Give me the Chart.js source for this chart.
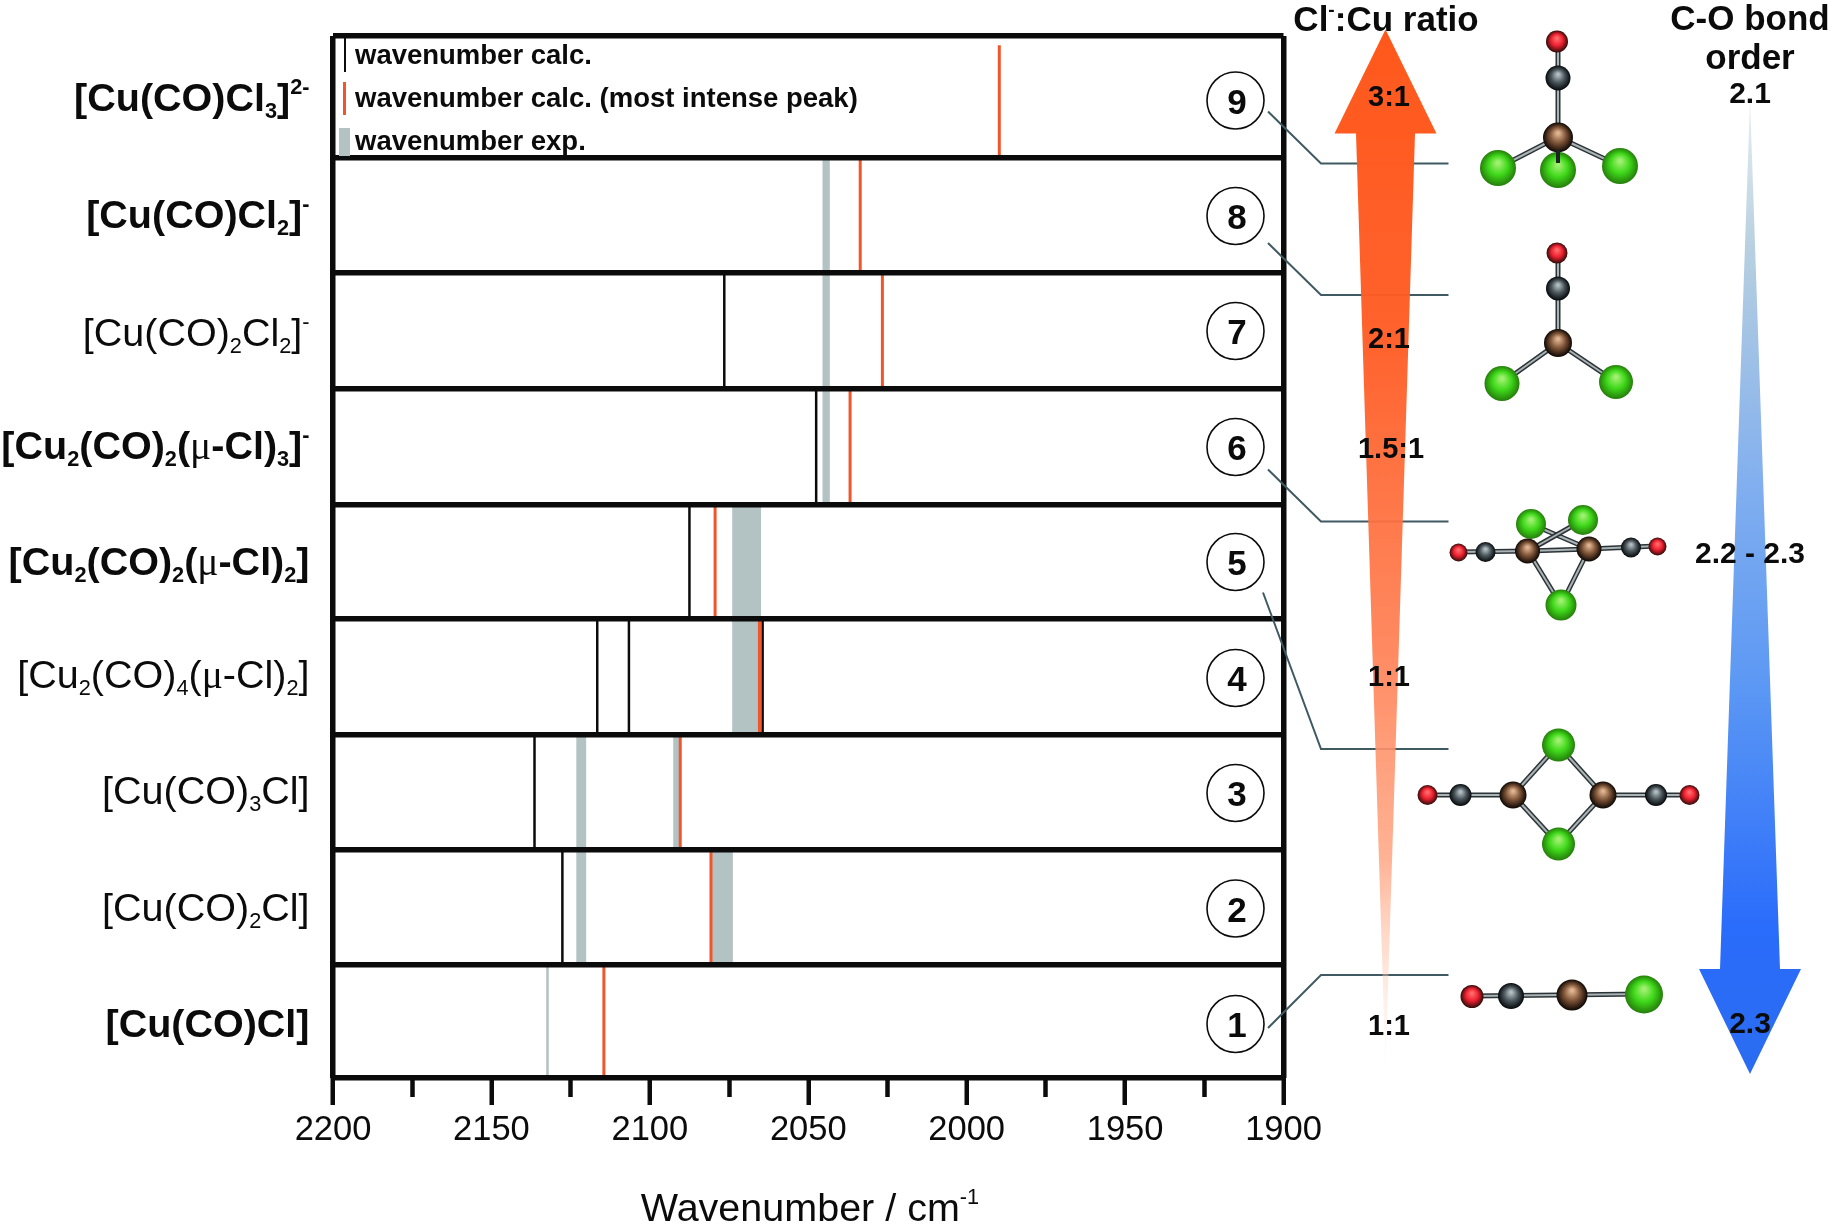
<!DOCTYPE html>
<html>
<head>
<meta charset="utf-8">
<script src="https://cdn.jsdelivr.net/npm/chart.js@4"></script>
<style>
  html, body { margin: 0; padding: 0; background: #fff; }
  canvas { display: block; }
</style>
</head>
<body>
<canvas id="chart" width="1832" height="1226"></canvas>
<script>
// rows go bottom to top, _ is subscript, ^ is superscript
const rowLabels = ['[Cu(CO)Cl]', '[Cu(CO)_2Cl]', '[Cu(CO)_3Cl]', '[Cu_2(CO)_4(μ-Cl)_2]', '[Cu_2(CO)_2(μ-Cl)_2]',
                   '[Cu_2(CO)_2(μ-Cl)_3]^-', '[Cu(CO)_2Cl_2]^-', '[Cu(CO)Cl_2]^-', '[Cu(CO)Cl_3]^2-'];
const rowBold = [true, false, false, false, true, true, false, true, true];
const rowEdges = [0, 0.98, 1.97, 2.97, 3.97, 4.96, 5.96, 6.96, 7.96, 9.01];

const blackRows = [2, 3, 4, 4, 4, 5, 6, 7];
const blackWavenumbers = [2127.6, 2136.4, 2116.6, 2106.6, 2064.4, 2087.5, 2047.5, 2076.5];

const orangeRows = [1, 2, 3, 4, 5, 6, 7, 8, 9];
const orangeWavenumbers = [2114.5, 2080.7, 2090.4, 2065.4, 2079.4, 2036.8, 2026.6, 2033.6, 1989.7];

const bandRows = [1, 2, 2, 3, 3, 4, 5, 6, 7, 8];
const bandHigh = [2132.6, 2123.1, 2080.7, 2123.1, 2092.5, 2073.9, 2073.9, 2045.4, 2045.4, 2045.4];
const bandLow = [2132.0, 2120.2, 2073.9, 2120.2, 2090.4, 2065.0, 2065.0, 2043.3, 2043.3, 2043.3];

const majorTicks = [2200, 2150, 2100, 2050, 2000, 1950, 1900];
const minorTicks = [2175, 2125, 2075, 2025, 1975, 1925];

const legendLabels = ['wavenumber calc.', 'wavenumber calc. (most intense peak)', 'wavenumber exp.'];
const rowNumbers = ['1', '2', '3', '4', '5', '6', '7', '8', '9'];
const ratioLabels = ['3:1', '2:1', '1.5:1', '1:1', '1:1'];
const bondOrderLabels = ['2.1', '2.2 - 2.3', '2.3'];

const BLACK = '#0b0b0b';
const ORANGE = '#f0562a';
const GREY = '#b3c2c2';
const FONT = '"Liberation Sans", Arial, sans-serif';

function peakLine(rows, values) {
    // each peak spans its row, NaN breaks the line between peaks
    const pts = [];
    rows.forEach((r, i) => {
        const top = r === 9 ? 8.93 : rowEdges[r];
        pts.push({x: values[i], y: rowEdges[r - 1]}, {x: values[i], y: top}, {x: NaN, y: NaN});
    });
    return pts;
}

// draws "[Cu(CO)_2Cl]^-" style labels, right aligned on x unless align is center
function richText(ctx, str, x, y, size, bold, align) {
    const parts = str.split(/(_\d|\^[\d-]+|μ)/).filter(s => s);
    const weight = bold ? 'bold ' : '';
    const items = parts.map(p => {
        if (p[0] === '_') return {t: p.slice(1), font: weight + size * 0.55 + 'px ' + FONT, dy: size * 0.2};
        if (p[0] === '^') return {t: p.slice(1), font: weight + size * 0.55 + 'px ' + FONT, dy: -size * 0.42};
        if (p === 'μ') return {t: p, font: size + 'px "Liberation Serif", serif', dy: 0};
        return {t: p, font: weight + size + 'px ' + FONT, dy: 0};
    });
    let total = 0;
    items.forEach(it => { ctx.font = it.font; it.w = ctx.measureText(it.t).width; total += it.w; });
    let cx = align === 'center' ? x - total / 2 : x - total;
    ctx.textAlign = 'left';
    ctx.textBaseline = 'alphabetic';
    items.forEach(it => {
        ctx.font = it.font;
        ctx.fillText(it.t, cx, y + it.dy);
        cx += it.w;
    });
}

function drawArrow(ctx, pts, fill) {
    ctx.beginPath();
    pts.forEach((p, i) => i ? ctx.lineTo(p[0], p[1]) : ctx.moveTo(p[0], p[1]));
    ctx.closePath();
    ctx.fillStyle = fill;
    ctx.fill();
}

const atomColors = {
    O: ['#ff6a6a', '#ee2030', '#2e0c08'],
    C: ['#b4bec2', '#4a565c', '#05080a'],
    U: ['#e0b490', '#7c5236', '#0c0603'],
    L: ['#a0f070', '#3fd81a', '#247e0a']
};

function atom(ctx, kind, x, y, r) {
    const c = atomColors[kind];
    const g = ctx.createRadialGradient(x, y - r * 0.3, r * 0.08, x, y, r);
    g.addColorStop(0, c[0]);
    g.addColorStop(0.5, c[1]);
    g.addColorStop(1, c[2]);
    ctx.fillStyle = g;
    ctx.beginPath();
    ctx.arc(x, y, r, 0, Math.PI * 2);
    ctx.fill();
}

function bonds(ctx, list) {
    list.forEach(b => {
        ctx.beginPath();
        ctx.moveTo(b[0], b[1]);
        ctx.lineTo(b[2], b[3]);
        ctx.lineWidth = 5;
        ctx.strokeStyle = '#2c3338';
        ctx.stroke();
        ctx.beginPath();
        ctx.moveTo(b[0], b[1]);
        ctx.lineTo(b[2], b[3]);
        ctx.lineWidth = 2;
        ctx.strokeStyle = '#aab4b4';
        ctx.stroke();
    });
}

function drawMolecules(ctx) {
    bonds(ctx, [[1558, 50, 1558, 137], [1558, 137, 1498, 168], [1558, 137, 1620, 166],
                [1558, 262, 1558, 343], [1558, 343, 1502, 383], [1558, 343, 1616, 382],
                [1459, 552, 1528, 551], [1528, 551, 1589, 549], [1589, 549, 1657, 546], [1528, 551, 1561, 605],
                [1589, 549, 1561, 605], [1531, 524, 1589, 549], [1583, 520, 1528, 551],
                [1427, 795, 1513, 795], [1603, 795, 1690, 795], [1513, 795, 1558, 745], [1558, 745, 1603, 795],
                [1513, 795, 1558, 844], [1558, 844, 1603, 795],
                [1472, 996, 1644, 994]]);
    [['O', 1557, 41.5, 11], ['C', 1558, 78, 12.5], ['L', 1498, 168, 18], ['L', 1558, 170, 18], ['L', 1620, 166, 18], ['U', 1558, 137.5, 15],
     ['O', 1557, 253, 10.5], ['C', 1558, 288.5, 12], ['U', 1558, 343, 14], ['L', 1502, 383.5, 17.5], ['L', 1616, 382, 17],
     ['L', 1531, 524, 15], ['L', 1583, 520, 15], ['O', 1458.5, 552.5, 9], ['C', 1485.5, 552, 10], ['U', 1527.5, 551, 12.5],
     ['U', 1589, 549, 12.5], ['C', 1631, 547.5, 10], ['O', 1657.5, 546.5, 9], ['L', 1561, 605, 15.5],
     ['O', 1427.5, 795, 10], ['C', 1460.5, 795, 11], ['U', 1513, 795, 13.5], ['U', 1603, 795, 13.5], ['C', 1656, 795, 11],
     ['O', 1689.5, 795, 10], ['L', 1558.5, 745, 16.5], ['L', 1558.5, 844, 16.5],
     ['O', 1472, 996.5, 11.5], ['C', 1511, 996, 13], ['U', 1572, 995, 15.5], ['L', 1644, 994.5, 19]
    ].forEach(a => atom(ctx, a[0], a[1], a[2], a[3]));
    // the stub of the Cu-Cl bond that sits in front of the middle Cl
    ctx.fillStyle = '#1c2226';
    ctx.fillRect(1556, 150, 4, 13);
}

const decorations = {
    id: 'decorations',
    afterDraw(chart) {
        const ctx = chart.ctx;
        ctx.save();

        // legend keys inside the top row
        ctx.fillStyle = BLACK;
        ctx.fillRect(344, 38, 2, 34);
        ctx.fillStyle = ORANGE;
        ctx.fillRect(343, 82, 3, 33);
        ctx.fillStyle = GREY;
        ctx.fillRect(339, 128, 11, 28);
        ctx.fillStyle = BLACK;
        legendLabels.forEach((t, i) => {
            ctx.font = 'bold 27.5px ' + FONT;
            ctx.textAlign = 'left';
            ctx.textBaseline = 'alphabetic';
            ctx.fillText(t, 355, [64, 107, 150][i]);
        });

        // row labels and numbered circles
        const labelY = [1025, 909, 792, 676, 563, 447, 334, 216, 99];
        const circleY = [1024, 908.5, 793, 678, 562, 447, 331, 216, 100.5];
        rowLabels.forEach((t, i) => {
            ctx.fillStyle = BLACK;
            richText(ctx, t, 309.5, labelY[i] + 11.5, 39.5, rowBold[i]);
            ctx.beginPath();
            ctx.arc(1235.5, circleY[i], 28.5, 0, Math.PI * 2);
            ctx.fillStyle = '#fff';
            ctx.fill();
            ctx.lineWidth = 1.6;
            ctx.strokeStyle = BLACK;
            ctx.stroke();
            ctx.fillStyle = BLACK;
            ctx.font = 'bold 35px ' + FONT;
            ctx.textAlign = 'center';
            ctx.textBaseline = 'alphabetic';
            ctx.fillText(rowNumbers[i], 1237, circleY[i] + 13);
        });

        // axis title
        richText(ctx, 'Wavenumber / cm^-1', 810, 1221, 39.5, false, 'center');

        // callout lines from the circles to the molecules
        ctx.strokeStyle = '#3f5a62';
        ctx.lineWidth = 2;
        [[1268, 111.5, 163.5], [1268, 243, 295], [1268, 469.5, 521.5], [1263, 592.5, 749], [1268, 1028, 975]].forEach(l => {
            ctx.beginPath();
            ctx.moveTo(l[0], l[1]);
            ctx.lineTo(1321, l[2]);
            ctx.lineTo(1448.5, l[2]);
            ctx.stroke();
        });

        // Cl:Cu arrow
        const og = ctx.createLinearGradient(0, 30, 0, 1067);
        og.addColorStop(0, 'rgba(255,88,28,1)');
        og.addColorStop(0.3, 'rgba(255,92,36,0.96)');
        og.addColorStop(0.6, 'rgba(255,128,84,0.92)');
        og.addColorStop(0.8, 'rgba(255,165,130,0.85)');
        og.addColorStop(1, 'rgba(255,220,205,0.05)');
        drawArrow(ctx, [[1385.5, 29.5], [1436.5, 133.5], [1415, 133.5], [1385.5, 1067], [1356, 133.5], [1334.5, 133.5]], og);

        // bond order arrow
        const bg = ctx.createLinearGradient(0, 100, 0, 1074);
        bg.addColorStop(0, '#e8eef2');
        bg.addColorStop(0.15, '#b8d0e0');
        bg.addColorStop(0.4, '#80aeef');
        bg.addColorStop(0.6, '#5c98f4');
        bg.addColorStop(0.85, '#2a6cfb');
        bg.addColorStop(1, '#2a6cf0');
        drawArrow(ctx, [[1750, 100], [1780, 969], [1801, 969], [1750, 1074], [1699, 969], [1720, 969]], bg);

        drawMolecules(ctx);

        // headings and arrow labels
        ctx.fillStyle = BLACK;
        richText(ctx, 'Cl^-:Cu ratio', 1386, 31, 35, true, 'center');
        ctx.font = 'bold 35px ' + FONT;
        ctx.textAlign = 'center';
        ctx.textBaseline = 'alphabetic';
        ctx.fillText('C-O bond', 1750, 30);
        ctx.fillText('order', 1750, 69);
        ctx.font = 'bold 29px ' + FONT;
        [[1389, 106], [1389, 348], [1391, 458], [1389, 686], [1389, 1035]].forEach((p, i) => {
            ctx.fillText(ratioLabels[i], p[0], p[1]);
        });
        ctx.font = 'bold 30px ' + FONT;
        [[1750, 103], [1750, 563], [1750, 1033]].forEach((p, i) => {
            ctx.fillText(bondOrderLabels[i], p[0], p[1]);
        });
        ctx.restore();
    }
};

new Chart(document.getElementById('chart'), {
    data: {
        datasets: [
            {
                type: 'bar',
                label: 'wavenumber exp.',
                order: 3,
                data: bandRows.map((r, i) => ({x: [bandLow[i], bandHigh[i]], y: (rowEdges[r - 1] + rowEdges[r]) / 2})),
                backgroundColor: GREY,
                barPercentage: 1,
                categoryPercentage: 1,
                grouped: false
            },
            {
                type: 'line',
                label: 'wavenumber calc.',
                order: 2,
                data: peakLine(blackRows, blackWavenumbers),
                borderColor: BLACK,
                borderWidth: 2.5,
                pointRadius: 0,
                spanGaps: false
            },
            {
                type: 'line',
                label: 'wavenumber calc. (most intense peak)',
                order: 1,
                data: peakLine(orangeRows, orangeWavenumbers),
                borderColor: ORANGE,
                borderWidth: 3,
                pointRadius: 0,
                spanGaps: false
            }
        ]
    },
    options: {
        indexAxis: 'y',
        responsive: false,
        animation: false,
        devicePixelRatio: 1,
        layout: {
            autoPadding: false,
            padding: {left: 333, right: 548.5, top: 36, bottom: 0}
        },
        plugins: {
            legend: {display: false},
            title: {display: false},
            tooltip: {enabled: false}
        },
        scales: {
            x: {
                type: 'linear',
                reverse: true,
                min: 1900,
                max: 2200,
                position: 'bottom',
                afterFit: s => { s.height = 148; },
                afterBuildTicks: s => { s.ticks = majorTicks.map(value => ({value})); },
                border: {display: false},
                grid: {
                    z: 1,
                    color: c => (c.tick && (c.tick.value === 1900 || c.tick.value === 2200)) ? BLACK : 'rgba(0,0,0,0)',
                    lineWidth: 5.5,
                    tickColor: BLACK,
                    tickWidth: 4.5,
                    tickLength: 27
                },
                ticks: {
                    autoSkip: false,
                    maxRotation: 0,
                    padding: 5,
                    color: BLACK,
                    font: {family: FONT, size: 34.5},
                    callback: v => String(v)
                }
            },
            xMinor: {
                type: 'linear',
                axis: 'x',
                reverse: true,
                min: 1900,
                max: 2200,
                position: {y: 0},
                afterBuildTicks: s => { s.ticks = minorTicks.map(value => ({value})); },
                border: {display: false},
                grid: {
                    drawOnChartArea: false,
                    tickColor: BLACK,
                    tickWidth: 4.5,
                    tickLength: 19
                },
                ticks: {display: false, autoSkip: false}
            },
            y: {
                type: 'linear',
                offset: false,
                min: 0,
                max: 9.01,
                afterFit: s => { s.width = 0; },
                afterBuildTicks: s => { s.ticks = rowEdges.map(value => ({value})); },
                border: {display: false},
                grid: {
                    z: 1,
                    offset: false,
                    color: BLACK,
                    lineWidth: 5.5,
                    drawTicks: false
                },
                ticks: {display: false}
            }
        }
    },
    plugins: [decorations]
});
</script>
</body>
</html>
